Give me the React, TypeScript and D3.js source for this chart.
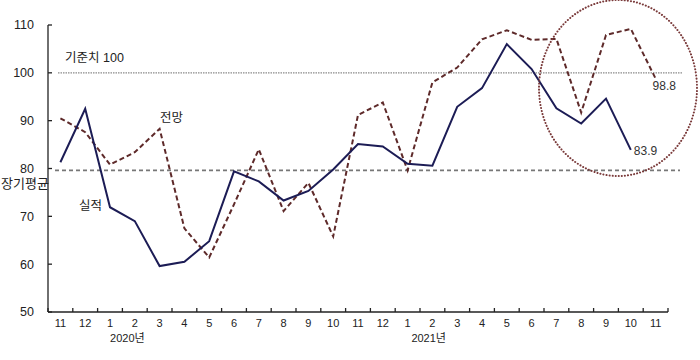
import React from 'react'
import * as d3 from 'd3'

// month labels, Nov 2019 .. Nov 2021
const months = ['11', '12', '1', '2', '3', '4', '5', '6', '7', '8', '9', '10', '11', '12', '1', '2', '3', '4', '5', '6', '7', '8', '9', '10', '11']
// 실적 (actual) - ends at Oct 2021
const actual = [81.3, 92.5, 71.9, 69.0, 59.6, 60.5, 64.8, 79.4, 77.3, 73.3, 75.3, 79.8, 85.1, 84.6, 81.0, 80.6, 92.9, 96.8, 106.0, 100.8, 92.6, 89.4, 94.6, 83.9]
// 전망 (forecast)
const outlook = [90.5, 87.6, 80.8, 83.4, 88.3, 67.5, 61.4, 72.5, 84.0, 71.1, 77.0, 65.8, 91.2, 93.8, 79.6, 98.0, 101.1, 107.0, 108.9, 106.9, 107.1, 91.7, 107.9, 109.2, 98.8]
const yTicks = [50, 60, 70, 80, 90, 100, 110]
const yearLabels = [{ i: 2.7, text: '2020년' }, { i: 14.85, text: '2021년' }]
const baseLine = 100
const longAvg = 79.6

const W = 700
const H = 360
const font = "'Liberation Sans', 'Noto Sans CJK KR', sans-serif"

const App = () => {
  const x = d3.scaleBand<number>().domain(d3.range(months.length)).range([48, 668])
  const cx = (i: number) => (x(i) ?? 0) + x.bandwidth() / 2
  // fractional positions along the category axis
  const xf = (i: number) => 48 + (i + 0.5) * x.step()
  const y = d3.scaleLinear().domain([50, 110]).range([312, 25])

  const line = d3.line<number>().x((d, i) => cx(i)).y(d => y(d))

  const last = actual.length - 1
  const lastO = outlook.length - 1

  return (
    <div style={{ position: 'absolute', left: 0, top: 0 }}>
      <svg width={W} height={H} style={{ display: 'block', background: '#fff' }} fontFamily={font}>
        {/* reference lines */}
        <line x1={58} x2={683} y1={y(baseLine)} y2={y(baseLine)} stroke="#8a8a8a" strokeWidth={1.3} strokeDasharray="1.5,1" />
        <line x1={55} x2={680} y1={y(longAvg)} y2={y(longAvg)} stroke="#777" strokeWidth={1.6} strokeDasharray="4,3" />

        {/* y axis */}
        <line x1={48} x2={48} y1={y(110)} y2={y(50)} stroke="#222" strokeWidth={1.3} />
        {yTicks.map(t => (
          <g key={t}>
            <line x1={48} x2={52} y1={y(t)} y2={y(t)} stroke="#222" strokeWidth={1.3} />
            <text x={34} y={y(t)} dy="0.35em" textAnchor="end" fontSize={12.5} fill="#222">{t}</text>
          </g>
        ))}

        {/* x axis */}
        <line x1={48} x2={668} y1={y(50)} y2={y(50)} stroke="#222" strokeWidth={1.5} />
        {d3.range(months.length + 1).map(k => {
          const xx = 48 + k * x.step()
          return <line key={k} x1={xx} x2={xx} y1={y(50)} y2={y(50) - 4} stroke="#222" strokeWidth={1.3} />
        })}
        {months.map((m, i) => (
          <text key={i} x={cx(i)} y={327} textAnchor="middle" fontSize={11} fill="#222">{m}</text>
        ))}
        {yearLabels.map(l => (
          <text key={l.text} x={xf(l.i)} y={342} textAnchor="middle" fontSize={11} fill="#222">{l.text}</text>
        ))}

        {/* series */}
        <path d={line(outlook) ?? ''} fill="none" stroke="#5e2a2a" strokeWidth={2} strokeDasharray="5,3" />
        <path d={line(actual) ?? ''} fill="none" stroke="#1c1c55" strokeWidth={2} />

        {/* highlight circle */}
        <ellipse cx={618} cy={88} rx={79} ry={88} fill="none" stroke="#7a3a3a" strokeWidth={2} strokeDasharray="0.1,3" strokeLinecap="round" />

        {/* annotations */}
        <text x={65} y={62} fontSize={12.5} fill="#222">기준치 100</text>
        <text x={160} y={122} fontSize={12.5} fill="#222">전망</text>
        <text x={79} y={210} fontSize={12.5} fill="#222">실적</text>
        <text x={1} y={188} fontSize={13} fill="#222">장기평균</text>
        <text x={cx(last) + 3} y={y(actual[last]) + 5} fontSize={12} fill="#333">{actual[last]}</text>
        <text x={cx(lastO) - 3} y={y(outlook[lastO]) + 11} fontSize={12} fill="#333">{outlook[lastO]}</text>
      </svg>
    </div>
  )
}

export default App
